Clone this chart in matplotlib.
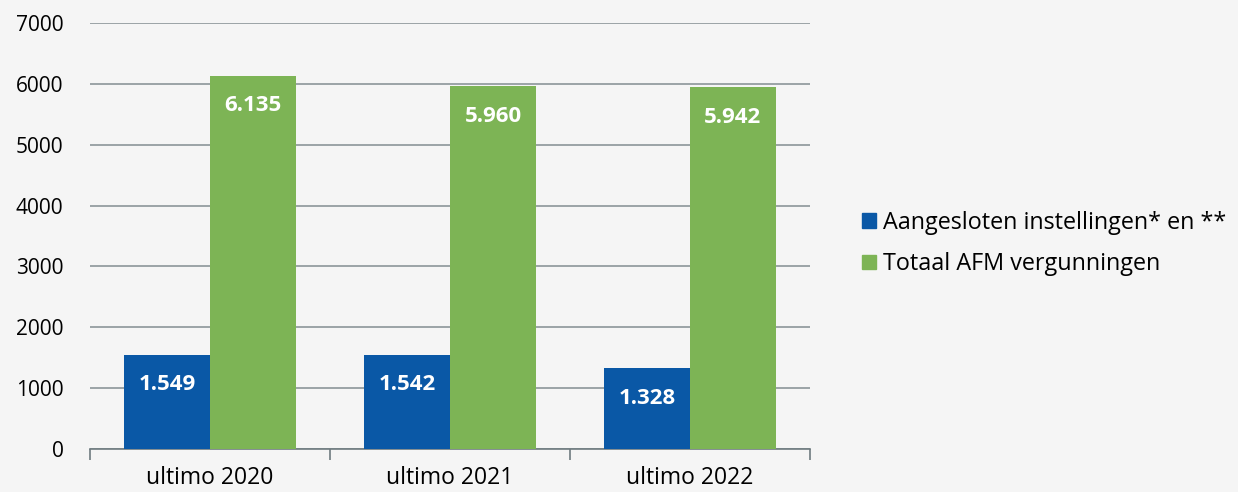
import numpy as np
import matplotlib.pyplot as plt
from matplotlib.patches import Patch

categories = ['ultimo 2020', 'ultimo 2021', 'ultimo 2022']
aangesloten = [1549, 1542, 1328]
totaal_afm = [6135, 5960, 5942]
series_names = ['Aangesloten instellingen* en **', 'Totaal AFM vergunningen']

blue = '#0a58a6'
green = '#7db455'
bg = '#f5f5f5'
grid_col = '#8c9599'

plt.rcParams['font.family'] = ['Open Sans', 'DejaVu Sans']

fig = plt.figure(figsize=(12.38, 4.92), dpi=100)
fig.set_facecolor(bg)
ax = fig.add_axes([0.0727, 0.0874, 0.5816, 0.8656])
ax.set_facecolor(bg)

x = np.arange(len(categories))
w = 0.358
b1 = ax.bar(x - w / 2, aangesloten, w, color=blue, zorder=3)
b2 = ax.bar(x + w / 2, totaal_afm, w, color=green, zorder=3)

def fmt(v):
    return '{:,}'.format(v).replace(',', '.')

for bars, vals in [(b1, aangesloten), (b2, totaal_afm)]:
    for r, v in zip(bars, vals):
        ax.text(r.get_x() + r.get_width() / 2, v - 490, fmt(v),
                ha='center', va='center', color='white',
                fontsize=16, fontweight='bold', zorder=4)

ax.set_xlim(-0.5, 2.5)
ax.set_ylim(0, 7000)
ax.set_yticks(range(0, 7001, 1000))
ax.yaxis.grid(True, color=grid_col, linewidth=1.2, zorder=0)
ax.tick_params(axis='y', length=0, labelsize=15, pad=19)
for s in ['top', 'right', 'left']:
    ax.spines[s].set_visible(False)
ax.spines['bottom'].set_color('#6f7b80')
ax.spines['bottom'].set_linewidth(1.2)

ax.set_xticks(x)
ax.set_xticklabels(categories, fontsize=16.5)
ax.tick_params(axis='x', length=0, pad=12)
ax.set_xticks(np.arange(-0.5, 3, 1), minor=True)
ax.tick_params(axis='x', which='minor', length=8, color='#6f7b80', width=1.2)

handles = [Patch(color=blue), Patch(color=green)]
fig.legend(handles, series_names, loc='center left', bbox_to_anchor=(0.679, 0.505),
           frameon=False, fontsize=16.8, handlelength=0.6, handleheight=0.6,
           handletextpad=0.3, labelspacing=0.75)

fig.savefig('out.png', facecolor=bg)
